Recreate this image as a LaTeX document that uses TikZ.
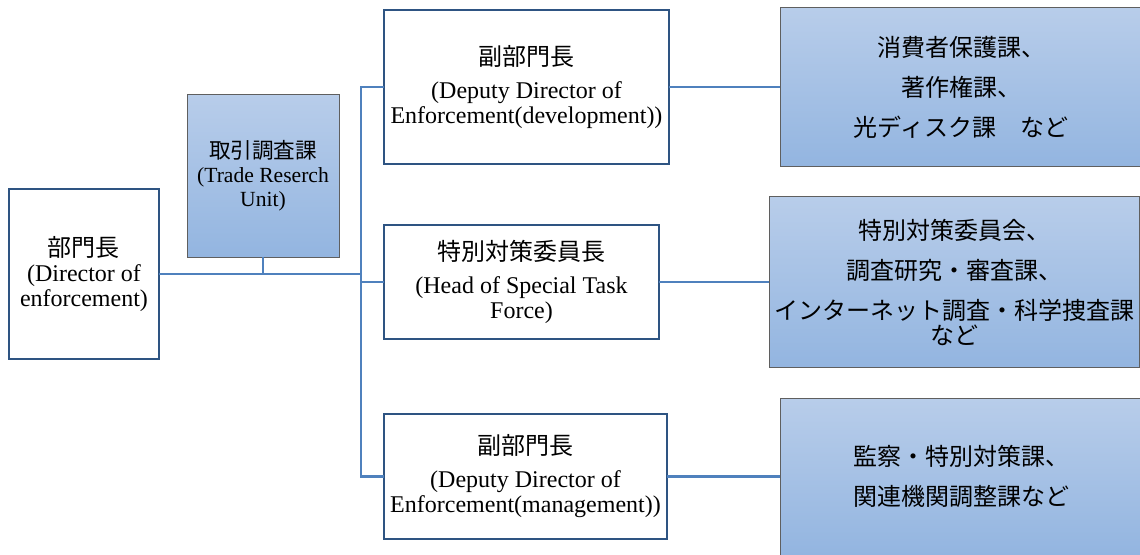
\documentclass[tikz,border=0pt]{standalone}
\usepackage{fontspec}
\setmainfont{Liberation Serif}
\newfontfamily\jp{Noto Sans CJK JP}
\definecolor{linkblue}{RGB}{79,129,189}
\definecolor{edgeblue}{RGB}{46,84,130}
\definecolor{edgegray}{RGB}{95,95,95}
\definecolor{fillhi}{RGB}{184,205,234}
\definecolor{filllo}{RGB}{147,181,224}
\tikzset{
  headbox/.style={draw=edgeblue, line width=1.5pt, fill=white, align=center, inner sep=0pt, outer sep=0pt},
  unitbox/.style={draw=edgegray, line width=0.75pt, top color=fillhi, bottom color=filllo, align=center, inner sep=0pt, outer sep=0pt},
  link/.style={draw=linkblue, line width=2pt}
}
\begin{document}
\begin{tikzpicture}[x=0.75pt, y=-0.75pt, font=\fontsize{18}{18.75}\selectfont]
  \useasboundingbox (0,0) rectangle (1140,554);

  % Kopf und Stab
  \node[headbox, minimum width=112.5pt, minimum height=127.5pt] (dir) at (84,274)
    {{\jp 部門長}\\(Director of\\enforcement)};
  \node[unitbox, font=\fontsize{16.2}{18}\selectfont, minimum width=114pt, minimum height=122.25pt] (trade) at (263,175.5)
    {{\jp 取引調査課}\\(Trade Reserch\\Unit)};

  % Stellvertreter
  \node[headbox, minimum width=213.75pt, minimum height=115.5pt] (dep1) at (526.5,87)
    {{\jp 副部門長}\\[6pt](Deputy Director of\\Enforcement(development))};
  \node[headbox, minimum width=206.25pt, minimum height=85.5pt] (head) at (521.5,282)
    {{\jp 特別対策委員長}\\[6pt](Head of Special Task\\Force)};
  \node[headbox, minimum width=212.25pt, minimum height=93.75pt] (dep3) at (525.5,476.5)
    {{\jp 副部門長}\\[6pt](Deputy Director of\\Enforcement(management))};

  % Abteilungen
  \node[unitbox, font=\jp\fontsize{18}{18.75}\selectfont, minimum width=271.5pt, minimum height=119.25pt] (sec1) at (961,87)
    {消費者保護課、\\[11.25pt]著作権課、\\[11.25pt]光ディスク課　など};
  \node[unitbox, font=\jp\fontsize{18}{18.75}\selectfont, minimum width=277.5pt, minimum height=128.25pt] (sec2) at (954,282)
    {特別対策委員会、\\[11.25pt]調査研究・審査課、\\[11.25pt]インターネット調査・科学捜査課\\など};
  \node[unitbox, font=\jp\fontsize{18}{18.75}\selectfont, minimum width=271.5pt, minimum height=117.75pt] (sec3) at (961,476.5)
    {監察・特別対策課、\\[11.25pt]関連機関調整課など};

  % Verbindungen
  \coordinate (bus) at (361,0);
  \draw[link] (dir.east) -- (dir.east -| bus);
  \draw[link] (trade.south) -- (trade.south |- dir.east);
  \draw[link] (dep1.west) -- (dep1.west -| bus) -- (dep3.west -| bus) -- (dep3.west);
  \draw[link] (head.west -| bus) -- (head.west);
  \draw[link] (dep1.east) -- (sec1.west);
  \draw[link] (head.east) -- (sec2.west);
  \draw[link] (dep3.east) -- (sec3.west);
\end{tikzpicture}
\end{document}
